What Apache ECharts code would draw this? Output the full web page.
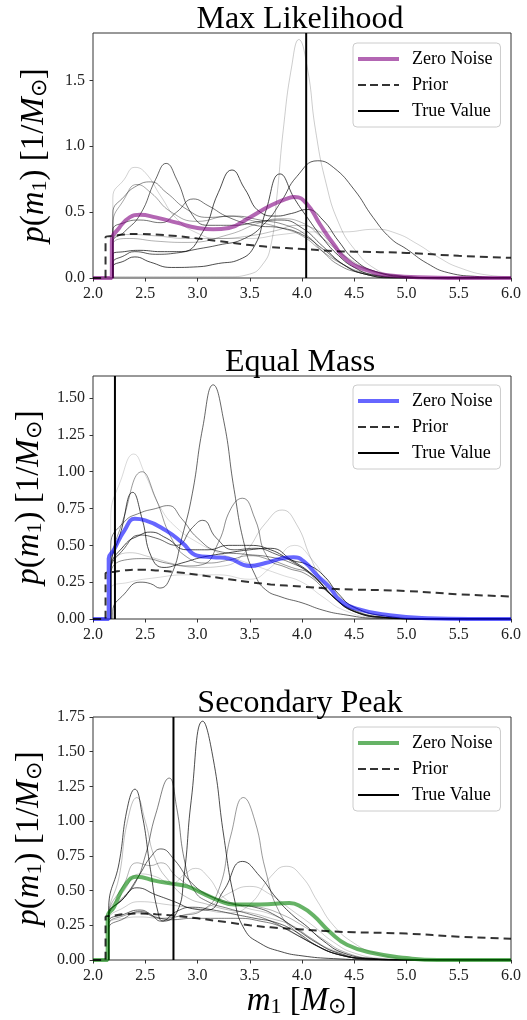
<!DOCTYPE html>
<html>
<head>
<meta charset="utf-8">
<script src="https://cdn.jsdelivr.net/npm/echarts@6/dist/echarts.min.js"></script>
<style>
  html, body { margin: 0; padding: 0; background: #fff; }
  #chart { width: 527px; height: 1020px; }
</style>
</head>
<body>
<div id="chart"></div>
<script>
// panel settings
const panelTitles = ['Max Likelihood', 'Equal Mass', 'Secondary Peak'];
const trueValues = [4.04, 2.21, 2.77];
const yMax = [1.86, 1.65, 1.75];
const yStep = [0.5, 0.25, 0.25];
const yDigits = [1, 2, 2];
const zeroColors = ['rgba(128,0,128,0.6)', 'rgba(0,0,255,0.6)', 'rgba(0,128,0,0.6)'];

// prior (same in every panel)
const priorCurve = [[2.0, 0], [2.12, 0], [2.12, 0.31], [2.2, 0.32], [2.3, 0.33], [2.45, 0.335], [2.6, 0.33],
  [2.8, 0.318], [3.0, 0.3], [3.3, 0.27], [3.5, 0.25], [3.7, 0.235], [4.0, 0.22], [4.3, 0.205], [4.5, 0.2],
  [5.0, 0.19], [5.5, 0.168], [6.0, 0.153]];

// zero noise posteriors
const mlZero = [[2.0, 0], [2.18, 0], [2.18, 0.28], [2.25, 0.38], [2.35, 0.46], [2.45, 0.48], [2.6, 0.46],
  [2.8, 0.42], [3.0, 0.38], [3.15, 0.37], [3.3, 0.38], [3.5, 0.46], [3.7, 0.55], [3.85, 0.6], [3.93, 0.615],
  [4.05, 0.56], [4.17, 0.41], [4.3, 0.26], [4.43, 0.135], [4.62, 0.06], [4.84, 0.02], [5.2, 0.004], [5.6, 0], [6.0, 0]];
const emZero = [[2.0, 0], [2.15, 0], [2.15, 0.41], [2.2, 0.47], [2.3, 0.6], [2.4, 0.68], [2.5, 0.67], [2.7, 0.6],
  [2.85, 0.52], [3.0, 0.43], [3.15, 0.42], [3.3, 0.41], [3.5, 0.36], [3.65, 0.38], [3.8, 0.41], [3.92, 0.42],
  [4.02, 0.39], [4.14, 0.3], [4.27, 0.21], [4.36, 0.13], [4.52, 0.07], [4.84, 0.025], [5.2, 0.005], [5.6, 0], [6.0, 0]];
const spZero = [[2.0, 0], [2.14, 0], [2.14, 0.31], [2.2, 0.38], [2.3, 0.53], [2.42, 0.6], [2.6, 0.57], [2.75, 0.55],
  [2.9, 0.53], [3.05, 0.48], [3.2, 0.43], [3.35, 0.4], [3.6, 0.4], [3.88, 0.41], [4.0, 0.38], [4.11, 0.32],
  [4.27, 0.2], [4.43, 0.11], [4.68, 0.05], [5.0, 0.014], [5.3, 0], [6.0, 0]];

// noisy posteriors, max likelihood panel
const mlNoise = [
  [[2.2, 0], [2.2, 0.01], [2.8, 0.01], [3.3, 0.01], [3.5, 0.03], [3.62, 0.1], [3.7, 0.24], [3.76, 0.62], [3.82, 1.12], [3.9, 1.6], [3.97, 1.81], [4.05, 1.6], [4.13, 1.12], [4.23, 0.72], [4.35, 0.42], [4.5, 0.22], [4.7, 0.07], [4.9, 0.02], [5.2, 0], [6.0, 0]],
  [[2.19, 0], [2.19, 0.61], [2.3, 0.75], [2.4, 0.84], [2.5, 0.8], [2.65, 0.62], [2.8, 0.45], [3.0, 0.34], [3.2, 0.3], [3.5, 0.3], [3.8, 0.33], [4.1, 0.35], [4.4, 0.35], [4.7, 0.37], [4.9, 0.34], [5.1, 0.26], [5.3, 0.16], [5.5, 0.08], [5.8, 0.02], [6.0, 0.01]],
  [[2.19, 0], [2.19, 0.49], [2.3, 0.62], [2.42, 0.7], [2.55, 0.73], [2.7, 0.65], [2.9, 0.52], [3.1, 0.46], [3.35, 0.47], [3.6, 0.44], [3.85, 0.4], [4.05, 0.32], [4.2, 0.2], [4.35, 0.1], [4.55, 0.04], [4.8, 0.01], [5.2, 0], [6.0, 0]],
  [[2.19, 0], [2.19, 0.4], [2.3, 0.6], [2.42, 0.71], [2.55, 0.65], [2.75, 0.5], [3.0, 0.43], [3.3, 0.47], [3.55, 0.43], [3.8, 0.38], [4.0, 0.32], [4.2, 0.2], [4.4, 0.1], [4.6, 0.04], [4.9, 0.01], [5.3, 0], [6.0, 0]],
  [[2.19, 0], [2.19, 0.27], [2.3, 0.35], [2.45, 0.48], [2.6, 0.75], [2.7, 0.87], [2.8, 0.75], [2.95, 0.48], [3.1, 0.4], [3.35, 0.4], [3.6, 0.43], [3.8, 0.44], [4.0, 0.38], [4.2, 0.24], [4.4, 0.1], [4.6, 0.03], [4.9, 0], [6.0, 0]],
  [[2.19, 0], [2.19, 0.18], [2.3, 0.2], [2.45, 0.21], [2.65, 0.2], [2.85, 0.2], [3.05, 0.35], [3.2, 0.65], [3.33, 0.82], [3.45, 0.68], [3.6, 0.5], [3.75, 0.47], [3.9, 0.49], [4.05, 0.52], [4.2, 0.44], [4.35, 0.28], [4.5, 0.14], [4.7, 0.05], [5.0, 0.01], [5.4, 0], [6.0, 0]],
  [[2.19, 0], [2.19, 0.36], [2.3, 0.42], [2.45, 0.44], [2.65, 0.42], [2.8, 0.5], [2.96, 0.6], [3.1, 0.55], [3.3, 0.46], [3.55, 0.4], [3.8, 0.38], [4.0, 0.33], [4.2, 0.22], [4.4, 0.1], [4.6, 0.03], [4.9, 0], [6.0, 0]],
  [[2.19, 0], [2.19, 0.08], [2.3, 0.13], [2.4, 0.16], [2.55, 0.12], [2.75, 0.08], [3.0, 0.085], [3.2, 0.11], [3.4, 0.14], [3.55, 0.25], [3.65, 0.5], [3.79, 0.79], [3.93, 0.6], [4.05, 0.46], [4.2, 0.3], [4.35, 0.17], [4.5, 0.08], [4.7, 0.02], [5.0, 0], [6.0, 0]],
  [[2.19, 0], [2.19, 0.11], [2.3, 0.17], [2.4, 0.2], [2.6, 0.18], [2.8, 0.19], [3.0, 0.22], [3.2, 0.25], [3.45, 0.3], [3.65, 0.42], [3.8, 0.58], [3.95, 0.77], [4.15, 0.89], [4.3, 0.84], [4.5, 0.67], [4.68, 0.46], [4.85, 0.3], [5.0, 0.22], [5.2, 0.11], [5.4, 0.04], [5.7, 0.01], [6.0, 0]],
  [[2.19, 0], [2.19, 0.3], [2.35, 0.33], [2.6, 0.32], [2.9, 0.3], [3.2, 0.3], [3.5, 0.32], [3.75, 0.36], [3.95, 0.4], [4.1, 0.38], [4.3, 0.25], [4.5, 0.12], [4.7, 0.05], [5.0, 0.01], [5.4, 0], [6.0, 0]],
  [[2.19, 0], [2.19, 0.25], [2.35, 0.3], [2.6, 0.28], [2.9, 0.27], [3.3, 0.33], [3.6, 0.42], [3.8, 0.45], [4.0, 0.42], [4.2, 0.3], [4.4, 0.17], [4.6, 0.07], [4.9, 0.02], [5.3, 0], [6.0, 0]]
];
const mlAlpha = [0.2, 0.18, 0.45, 0.35, 0.6, 0.7, 0.55, 0.7, 0.65, 0.25, 0.3];

// noisy posteriors, equal mass panel
const emNoise = [
  [[2.19, 0], [2.19, 0.05], [2.3, 0.17], [2.45, 0.25], [2.55, 0.24], [2.64, 0.21], [2.75, 0.3], [2.85, 0.55], [2.95, 0.85], [3.05, 1.3], [3.15, 1.59], [3.25, 1.35], [3.35, 0.88], [3.45, 0.5], [3.55, 0.3], [3.65, 0.2], [3.8, 0.15], [4.0, 0.11], [4.2, 0.06], [4.4, 0.03], [4.7, 0.005], [5.2, 0], [6.0, 0]],
  [[2.17, 0], [2.17, 0.68], [2.27, 0.95], [2.39, 1.12], [2.5, 0.98], [2.65, 0.75], [2.8, 0.62], [3.0, 0.52], [3.2, 0.45], [3.4, 0.4], [3.6, 0.35], [3.8, 0.3], [4.0, 0.25], [4.2, 0.15], [4.4, 0.06], [4.7, 0.01], [5.2, 0], [6.0, 0]],
  [[2.17, 0], [2.17, 0.3], [2.3, 0.7], [2.47, 1.0], [2.6, 0.82], [2.75, 0.55], [2.9, 0.42], [3.1, 0.38], [3.3, 0.4], [3.5, 0.43], [3.7, 0.4], [3.9, 0.35], [4.1, 0.3], [4.3, 0.15], [4.5, 0.05], [4.8, 0.01], [5.2, 0], [6.0, 0]],
  [[2.17, 0], [2.17, 0.3], [2.3, 0.4], [2.5, 0.41], [2.7, 0.38], [2.9, 0.36], [3.05, 0.37], [3.2, 0.52], [3.32, 0.75], [3.43, 0.82], [3.55, 0.68], [3.67, 0.42], [3.85, 0.35], [4.05, 0.3], [4.25, 0.18], [4.45, 0.07], [4.7, 0.02], [5.1, 0], [6.0, 0]],
  [[2.17, 0], [2.17, 0.35], [2.35, 0.45], [2.55, 0.42], [2.8, 0.37], [3.0, 0.35], [3.25, 0.36], [3.45, 0.45], [3.65, 0.65], [3.81, 0.74], [3.95, 0.64], [4.08, 0.42], [4.2, 0.25], [4.35, 0.12], [4.55, 0.04], [4.8, 0.01], [5.2, 0], [6.0, 0]],
  [[2.17, 0], [2.17, 0.2], [2.35, 0.25], [2.6, 0.28], [2.9, 0.3], [3.2, 0.3], [3.5, 0.27], [3.7, 0.35], [3.93, 0.5], [4.1, 0.4], [4.25, 0.25], [4.45, 0.1], [4.7, 0.03], [5.0, 0.01], [5.4, 0], [6.0, 0]],
  [[2.17, 0], [2.17, 0.5], [2.3, 0.66], [2.45, 0.72], [2.6, 0.75], [2.72, 0.77], [2.85, 0.68], [3.0, 0.55], [3.2, 0.46], [3.45, 0.44], [3.7, 0.42], [3.9, 0.38], [4.1, 0.3], [4.3, 0.15], [4.5, 0.06], [4.8, 0.01], [5.2, 0], [6.0, 0]],
  [[2.17, 0], [2.17, 0.32], [2.3, 0.48], [2.45, 0.57], [2.6, 0.55], [2.8, 0.5], [2.95, 0.62], [3.05, 0.67], [3.18, 0.55], [3.35, 0.47], [3.55, 0.48], [3.75, 0.44], [3.95, 0.37], [4.15, 0.26], [4.35, 0.12], [4.55, 0.04], [4.8, 0.01], [5.2, 0], [6.0, 0]],
  [[2.17, 0], [2.17, 0.33], [2.3, 0.5], [2.45, 0.57], [2.55, 0.59], [2.7, 0.55], [2.9, 0.47], [3.1, 0.47], [3.3, 0.5], [3.5, 0.5], [3.7, 0.47], [3.9, 0.4], [4.05, 0.37], [4.2, 0.3], [4.35, 0.17], [4.5, 0.08], [4.8, 0.02], [5.2, 0], [6.0, 0]],
  [[2.17, 0], [2.17, 0.32], [2.27, 0.6], [2.38, 0.86], [2.47, 0.68], [2.56, 0.42], [2.68, 0.35], [2.85, 0.38], [3.05, 0.42], [3.3, 0.45], [3.5, 0.47], [3.7, 0.48], [3.9, 0.4], [4.1, 0.3], [4.3, 0.15], [4.5, 0.05], [4.8, 0.01], [5.2, 0], [6.0, 0]]
];
const emAlpha = [0.6, 0.15, 0.4, 0.45, 0.2, 0.15, 0.5, 0.6, 0.7, 0.7];

// noisy posteriors, secondary peak panel
const spNoise = [
  [[2.15, 0], [2.15, 0.36], [2.25, 0.7], [2.33, 1.1], [2.4, 1.23], [2.47, 1.05], [2.55, 0.65], [2.62, 0.35], [2.67, 0.28], [2.8, 0.34], [2.87, 0.6], [2.94, 1.15], [3.05, 1.72], [3.15, 1.45], [3.25, 0.9], [3.35, 0.45], [3.45, 0.22], [3.6, 0.12], [3.8, 0.06], [4.0, 0.03], [4.3, 0.01], [4.8, 0], [6.0, 0]],
  [[2.15, 0], [2.15, 0.3], [2.25, 0.6], [2.33, 1.0], [2.42, 1.17], [2.5, 1.0], [2.6, 0.72], [2.75, 0.55], [2.9, 0.45], [3.1, 0.4], [3.3, 0.36], [3.5, 0.34], [3.7, 0.3], [3.9, 0.25], [4.1, 0.15], [4.3, 0.06], [4.6, 0.01], [5.0, 0], [6.0, 0]],
  [[2.15, 0], [2.15, 0.33], [2.25, 0.42], [2.4, 0.55], [2.5, 0.75], [2.6, 1.05], [2.73, 1.31], [2.8, 1.1], [2.88, 0.7], [2.97, 0.5], [3.1, 0.42], [3.3, 0.37], [3.5, 0.33], [3.7, 0.28], [3.9, 0.2], [4.1, 0.12], [4.3, 0.05], [4.6, 0.01], [5.0, 0], [6.0, 0]],
  [[2.15, 0], [2.15, 0.25], [2.3, 0.32], [2.45, 0.34], [2.65, 0.3], [2.85, 0.32], [3.05, 0.36], [3.2, 0.5], [3.32, 0.9], [3.44, 1.17], [3.55, 1.0], [3.65, 0.65], [3.78, 0.35], [3.95, 0.2], [4.15, 0.1], [4.4, 0.03], [4.7, 0.005], [5.1, 0], [6.0, 0]],
  [[2.15, 0], [2.15, 0.3], [2.3, 0.45], [2.42, 0.52], [2.6, 0.47], [2.78, 0.42], [2.95, 0.37], [3.1, 0.36], [3.25, 0.5], [3.43, 0.71], [3.6, 0.6], [3.75, 0.45], [3.9, 0.33], [4.05, 0.24], [4.2, 0.14], [4.4, 0.05], [4.7, 0.01], [5.1, 0], [6.0, 0]],
  [[2.15, 0], [2.15, 0.28], [2.3, 0.38], [2.45, 0.42], [2.7, 0.4], [3.0, 0.37], [3.3, 0.34], [3.5, 0.4], [3.7, 0.6], [3.85, 0.675], [4.0, 0.6], [4.15, 0.42], [4.3, 0.25], [4.5, 0.12], [4.7, 0.05], [5.0, 0.01], [5.4, 0], [6.0, 0]],
  [[2.15, 0], [2.15, 0.32], [2.3, 0.45], [2.45, 0.62], [2.55, 0.74], [2.65, 0.8], [2.78, 0.72], [2.95, 0.55], [3.15, 0.45], [3.35, 0.4], [3.55, 0.38], [3.75, 0.32], [3.95, 0.22], [4.15, 0.12], [4.35, 0.05], [4.6, 0.01], [5.0, 0], [6.0, 0]],
  [[2.15, 0], [2.15, 0.27], [2.3, 0.33], [2.45, 0.36], [2.55, 0.33], [2.65, 0.28], [2.8, 0.35], [2.95, 0.38], [3.15, 0.36], [3.35, 0.33], [3.55, 0.3], [3.75, 0.27], [3.95, 0.2], [4.15, 0.1], [4.35, 0.04], [4.6, 0.01], [5.0, 0], [6.0, 0]],
  [[2.15, 0], [2.15, 0.3], [2.3, 0.5], [2.45, 0.62], [2.6, 0.6], [2.75, 0.55], [2.88, 0.62], [2.98, 0.66], [3.1, 0.6], [3.25, 0.45], [3.45, 0.38], [3.7, 0.33], [3.9, 0.25], [4.1, 0.15], [4.3, 0.07], [4.6, 0.01], [5.0, 0], [6.0, 0]],
  [[2.15, 0], [2.15, 0.25], [2.3, 0.3], [2.45, 0.31], [2.65, 0.3], [2.9, 0.33], [3.1, 0.38], [3.3, 0.48], [3.5, 0.53], [3.7, 0.47], [3.9, 0.36], [4.1, 0.25], [4.3, 0.13], [4.5, 0.05], [4.8, 0.01], [5.2, 0], [6.0, 0]],
  [[2.15, 0], [2.15, 0.3], [2.3, 0.55], [2.42, 0.7], [2.55, 0.68], [2.65, 0.7], [2.8, 0.6], [3.0, 0.5], [3.2, 0.44], [3.4, 0.4], [3.6, 0.38], [3.8, 0.33], [4.0, 0.25], [4.2, 0.15], [4.4, 0.06], [4.7, 0.01], [5.1, 0], [6.0, 0]],
  [[2.15, 0], [2.15, 0.22], [2.3, 0.3], [2.45, 0.35], [2.6, 0.31], [2.75, 0.29], [2.95, 0.3], [3.2, 0.3], [3.4, 0.3], [3.6, 0.28], [3.8, 0.24], [4.0, 0.16], [4.2, 0.08], [4.4, 0.03], [4.7, 0], [6.0, 0]]
];
const spAlpha = [0.7, 0.25, 0.5, 0.4, 0.7, 0.2, 0.6, 0.6, 0.2, 0.2, 0.3, 0.5];

const zeroCurves = [mlZero, emZero, spZero];
const noiseCurves = [mlNoise, emNoise, spNoise];
const noiseAlpha = [mlAlpha, emAlpha, spAlpha];

const gridTops = [33, 376, 717];
const gridHeights = [245, 243, 243];
const legendTops = [43, 385, 727];
const serif = 'Liberation Serif';

// legend sample glyphs (41 px wide lines)
const iconSolidThick = 'path://M0 0H41V4H0Z';
const iconSolid = 'path://M0 0H41V2H0Z';
const iconDashed = 'path://M0 0H8V2H0Z M12 0H20V2H12Z M24 0H32V2H24Z M36 0H41V2H36Z';

const chart = echarts.init(document.getElementById('chart'), null, { renderer: 'canvas' });

const nameStyle = {
  fontFamily: serif, fontSize: 33, color: '#000',
  rich: {
    i: { fontFamily: serif, fontStyle: 'italic', fontSize: 33, color: '#000' },
    s: { fontFamily: serif, fontSize: 22, color: '#000', verticalAlign: 'bottom' }
  }
};

const grids = [], xAxes = [], yAxes = [], titles = [], legends = [], series = [];
for (let p = 0; p < 3; p++) {
  grids.push({
    left: 93, width: 418, top: gridTops[p], height: gridHeights[p],
    show: true, borderColor: '#333', borderWidth: 1, backgroundColor: 'transparent'
  });
  xAxes.push({
    type: 'value', gridIndex: p, min: 2, max: 6, interval: 0.5,
    axisLine: { show: false },
    axisTick: { show: true, inside: false, length: 3.5, lineStyle: { color: '#333' } },
    splitLine: { show: false },
    axisLabel: { margin: 8, fontFamily: serif, fontSize: 16, color: '#222', formatter: v => v.toFixed(1) },
    name: p === 2 ? '{i|m}{s|1} [{i|M}{s|⊙}]' : '',
    nameLocation: 'middle', nameGap: 22,
    nameTextStyle: nameStyle
  });
  yAxes.push({
    type: 'value', gridIndex: p, min: 0, max: yMax[p], interval: yStep[p],
    axisLine: { show: false },
    axisTick: { show: true, inside: false, length: 3.5, lineStyle: { color: '#333' } },
    splitLine: { show: false },
    axisLabel: {
      margin: 8, fontFamily: serif, fontSize: 16, color: '#222',
      showMaxLabel: p === 2,
      formatter: v => v.toFixed(yDigits[p])
    },
    name: '{i|p}({i|m}{s|1}) [1/{i|M}{s|⊙}]',
    nameLocation: 'middle', nameRotate: 90, nameGap: 42,
    nameTextStyle: nameStyle
  });
  titles.push({
    text: panelTitles[p], left: 300, textAlign: 'center', top: gridTops[p] - 29, padding: 0,
    textStyle: { fontFamily: serif, fontSize: 32, fontWeight: 'normal', color: '#000' }
  });
  legends.push({
    data: [
      { name: 'Zero Noise#' + p, icon: iconSolidThick },
      { name: 'Prior#' + p, icon: iconDashed },
      { name: 'True Value#' + p, icon: iconSolid }
    ],
    formatter: n => n.split('#')[0],
    orient: 'vertical', left: 353, top: legendTops[p],
    itemWidth: 41, itemHeight: 14, itemGap: 8,
    padding: [7, 8, 7, 5],
    borderColor: '#ccc', borderWidth: 1, borderRadius: 4,
    backgroundColor: 'rgba(255,255,255,0.8)',
    selectedMode: false,
    textStyle: { fontFamily: serif, fontSize: 18, color: '#000', padding: [0, 0, 0, 8] }
  });

  noiseCurves[p].forEach((d, i) => {
    const c = 'rgba(0,0,0,' + noiseAlpha[p][i] + ')';
    series.push({
      type: 'line', xAxisIndex: p, yAxisIndex: p, data: d,
      smooth: 0.5, symbol: 'none', silent: true, z: 2,
      color: c, lineStyle: { color: c, width: 1 }
    });
  });
  series.push({
    name: 'Zero Noise#' + p, type: 'line', xAxisIndex: p, yAxisIndex: p, data: zeroCurves[p],
    smooth: 0.5, symbol: 'none', z: 3,
    color: zeroColors[p], lineStyle: { color: zeroColors[p], width: 4 }
  });
  series.push({
    name: 'Prior#' + p, type: 'line', xAxisIndex: p, yAxisIndex: p, data: priorCurve,
    smooth: 0.5, symbol: 'none', z: 4,
    color: 'rgba(0,0,0,0.8)', lineStyle: { color: 'rgba(0,0,0,0.8)', width: 2, type: [8, 5] }
  });
  series.push({
    name: 'True Value#' + p, type: 'line', xAxisIndex: p, yAxisIndex: p,
    data: [[trueValues[p], 0], [trueValues[p], yMax[p]]],
    symbol: 'none', z: 5,
    color: '#000', lineStyle: { color: '#000', width: 2 }
  });
}

chart.setOption({
  animation: false,
  backgroundColor: '#fff',
  title: titles,
  legend: legends,
  grid: grids,
  xAxis: xAxes,
  yAxis: yAxes,
  series: series
});
</script>
</body>
</html>
